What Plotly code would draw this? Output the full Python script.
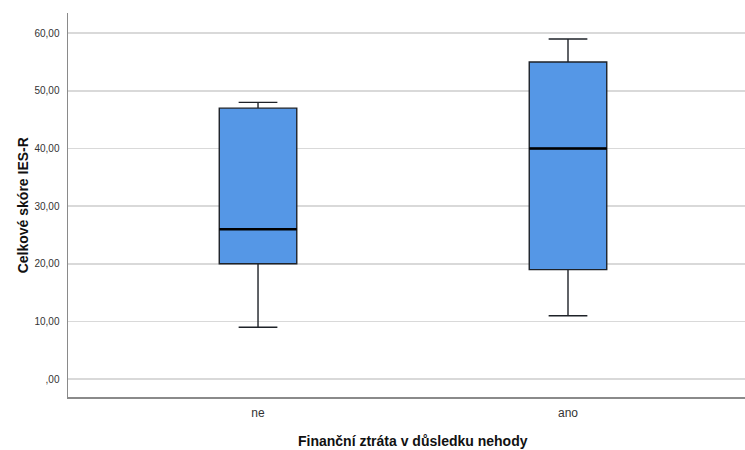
import plotly.graph_objects as go

# ---- data ----
categories = ["ne", "ano"]
lower_fence = [9, 11]
q1_vals = [20, 19]
median_vals = [26, 40]
q3_vals = [47, 55]
upper_fence = [48, 59]

y_tick_vals = [0, 10, 20, 30, 40, 50, 60]
y_tick_labels = [",00", "10,00", "20,00", "30,00", "40,00", "50,00", "60,00"]

x_title = "Finanční ztráta v důsledku nehody"
y_title = "Celkové skóre IES-R"

BOX_W = 0.25
FONT = "Liberation Sans, Arial, sans-serif"

xpos = list(range(len(categories)))

fig = go.Figure()
fig.add_trace(go.Box(
    x=xpos,
    q1=q1_vals,
    median=median_vals,
    q3=q3_vals,
    lowerfence=lower_fence,
    upperfence=upper_fence,
    width=BOX_W,
    whiskerwidth=0.5,
    fillcolor="#5597e6",
    line=dict(color="#1e2228", width=1.4),
    boxpoints=False,
    showlegend=False,
    hoverinfo="skip",
))

# thicker median lines
mx, my = [], []
for i, m in zip(xpos, median_vals):
    mx += [i - BOX_W / 2, i + BOX_W / 2, None]
    my += [m, m, None]
fig.add_trace(go.Scatter(x=mx, y=my, mode="lines",
                         line=dict(color="#000000", width=2.4),
                         showlegend=False, hoverinfo="skip"))

fig.update_layout(
    width=745, height=450,
    margin=dict(l=68, r=0, t=13, b=53),
    paper_bgcolor="white", plot_bgcolor="white",
    font=dict(family=FONT, color="#222222"),
    xaxis=dict(
        range=[-0.613, 1.571],
        tickvals=xpos, ticktext=categories,
        showgrid=False, zeroline=False,
        showline=True, linecolor="#8a8a8a", linewidth=1.5,
        tickfont=dict(size=12, color="#333333"),
        ticks="", ticklabelstandoff=4,
    ),
    yaxis=dict(
        range=[-3.1, 63.5],
        tickvals=y_tick_vals, ticktext=y_tick_labels,
        showgrid=True, gridcolor="#d9d9d9", gridwidth=1.5,
        zeroline=False,
        showline=True, linecolor="#8a8a8a", linewidth=1.5,
        tickfont=dict(size=10, color="#333333"),
        ticks="", ticklabelstandoff=5,
    ),
    annotations=[
        dict(text=f"<b>{x_title}</b>", xref="paper", yref="paper",
             x=0.51, y=-0.1146, xanchor="center", yanchor="middle",
             showarrow=False, font=dict(size=14, color="#111111", family=FONT)),
        dict(text=f"<b>{y_title}</b>", xref="paper", yref="paper",
             x=-0.066, y=0.5, xanchor="center", yanchor="middle",
             textangle=-90,
             showarrow=False, font=dict(size=14, color="#111111", family=FONT)),
    ],
)

fig.write_html(
    "out.html",
    config={"displayModeBar": False, "staticPlot": True},
    post_script="document.body.style.margin='0';document.body.style.overflow='hidden';",
)
